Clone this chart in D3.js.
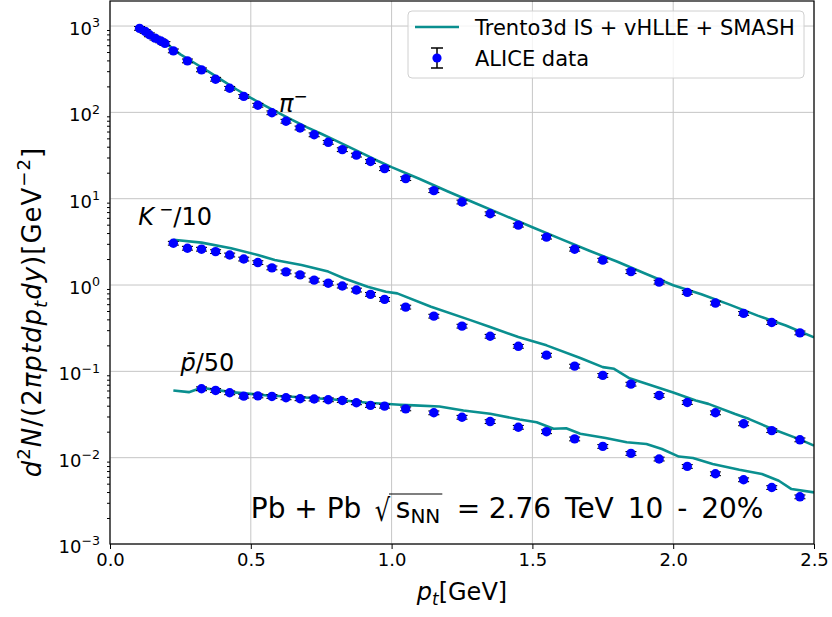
<!DOCTYPE html>
<html lang="en">
<head>
<meta charset="utf-8">
<title>Identified hadron spectra</title>
<script src="https://d3js.org/d3.v7.min.js"></script>
<style>
  html, body { margin: 0; padding: 0; background: #fff; }
  svg { display: block; font-family: "DejaVu Sans", sans-serif; }
  text { white-space: pre; }
</style>
</head>
<body>
<svg id="chart" width="832" height="617"></svg>
<script>
// ALICE data points (blue)
const piPt = [0.105, 0.125, 0.14, 0.16, 0.18, 0.195, 0.225, 0.275, 0.325, 0.375, 0.425, 0.475, 0.525, 0.575, 0.625, 0.675, 0.725, 0.775, 0.825, 0.875, 0.925, 0.975,
  1.05, 1.15, 1.25, 1.35, 1.45, 1.55, 1.65, 1.75, 1.85, 1.95, 2.05, 2.15, 2.25, 2.35, 2.45];
const piData = [940, 868, 792, 725, 674, 629, 516, 395, 311, 242, 190, 153, 121, 99, 79, 66, 55, 45, 37, 32, 27, 22.3,
  17.1, 12.4, 9.16, 6.70, 4.94, 3.59, 2.60, 1.94, 1.43, 1.08, 0.822, 0.618, 0.469, 0.368, 0.279];

const kPt = [0.225, 0.275, 0.325, 0.375, 0.425, 0.475, 0.525, 0.575, 0.625, 0.675, 0.725, 0.775, 0.825, 0.875, 0.925, 0.975,
  1.05, 1.15, 1.25, 1.35, 1.45, 1.55, 1.65, 1.75, 1.85, 1.95, 2.05, 2.15, 2.25, 2.35, 2.45];
const kData = [3.05, 2.67, 2.60, 2.44, 2.23, 2.00, 1.82, 1.58, 1.42, 1.31, 1.14, 1.05, 0.973, 0.875, 0.780, 0.682,
  0.555, 0.436, 0.334, 0.255, 0.195, 0.154, 0.115, 0.0898, 0.0711, 0.0526, 0.0436, 0.0331, 0.0247, 0.0206, 0.0161];

const pPt = [0.325, 0.375, 0.425, 0.475, 0.525, 0.575, 0.625, 0.675, 0.725, 0.775, 0.825, 0.875, 0.925, 0.975,
  1.05, 1.15, 1.25, 1.35, 1.45, 1.55, 1.65, 1.75, 1.85, 1.95, 2.05, 2.15, 2.25, 2.35, 2.45];
const pData = [0.0629, 0.0601, 0.0565, 0.0516, 0.0520, 0.0512, 0.0494, 0.0482, 0.0478, 0.0469, 0.0460, 0.0433, 0.0403, 0.0395,
  0.0368, 0.0331, 0.0294, 0.0262, 0.0225, 0.0200, 0.0165, 0.0135, 0.0112, 0.00965, 0.00792, 0.00652, 0.00555, 0.00451, 0.00352];

// relative uncertainty of the data points (bars are mostly hidden by the markers)
const relErr = 0.05;

// Trento3d IS + vHLLE + SMASH curves (teal)
const piModelPt = [0.1, 0.15, 0.2, 0.25, 0.3, 0.35, 0.4, 0.45, 0.5, 0.55, 0.6, 0.65, 0.7, 0.75, 0.8, 0.85, 0.9, 0.95, 1.0,
  1.1, 1.2, 1.3, 1.4, 1.5, 1.6, 1.7, 1.8, 1.9, 2.0, 2.1, 2.2, 2.3, 2.4, 2.5];
const piModel = [965, 790, 625, 470, 373, 296, 233, 184, 147, 120, 98, 80.7, 67.1, 56.5, 47.4, 39.5, 33.0, 27.5, 23.2,
  16.9, 12.1, 8.8, 6.41, 4.67, 3.42, 2.51, 1.87, 1.36, 0.995, 0.78, 0.593, 0.442, 0.34, 0.248];

const kModelPt = [0.225, 0.325, 0.43, 0.525, 0.585, 0.68, 0.775, 0.83, 0.915, 0.98, 1.02, 1.14, 1.28, 1.35, 1.45, 1.55,
  1.67, 1.75, 1.79, 1.845, 1.905, 2.0, 2.08, 2.125, 2.22, 2.27, 2.35, 2.445, 2.5];
const kModel = [3.34, 3.10, 2.67, 2.23, 1.95, 1.71, 1.43, 1.20, 0.955, 0.836, 0.80, 0.56, 0.392, 0.327, 0.25, 0.20,
  0.143, 0.112, 0.107, 0.083, 0.072, 0.057, 0.046, 0.042, 0.032, 0.028, 0.0216, 0.0165, 0.0138];

const pModelPt = [0.225, 0.28, 0.325, 0.43, 0.56, 0.68, 0.795, 0.915, 1.03, 1.08, 1.17, 1.255, 1.35, 1.455, 1.515, 1.575,
  1.62, 1.67, 1.76, 1.835, 1.905, 1.96, 2.02, 2.07, 2.14, 2.235, 2.315, 2.375, 2.42, 2.5];
const pModel = [0.0601, 0.0574, 0.0646, 0.0574, 0.0526, 0.0502, 0.0472, 0.0432, 0.041, 0.0403, 0.0392, 0.0352, 0.0322, 0.0277, 0.0257, 0.0216,
  0.0219, 0.0189, 0.0169, 0.0151, 0.0144, 0.0126, 0.0103, 0.0099, 0.00846, 0.00725, 0.00646, 0.0054, 0.00433, 0.00396];

const xTicks = [0, 0.5, 1.0, 1.5, 2.0, 2.5];
const yExponents = [-3, -2, -1, 0, 1, 2, 3];

const W = 832, H = 617;
const margin = {top: 1, right: 18, bottom: 73, left: 110};
const LINE_COLOR = '#0a8f8f';
const DOT_COLOR = '#0000ff';

const svg = d3.select('#chart');
const x = d3.scaleLinear().domain([0, 2.5]).range([margin.left, W - margin.right]);
const y = d3.scaleLog().domain([1e-3, 1950]).range([H - margin.bottom, margin.top]);

// text with italic / super / subscript pieces
function rich(t, parts, base) {
  let shift = 0;
  parts.forEach(p => {
    const s = p.sup ? -0.42 * base : p.sub ? 0.22 * base : 0;
    t.append('tspan')
      .attr('dy', s - shift)
      .attr('font-size', (p.sup || p.sub) ? base * 0.7 : base)
      .attr('font-style', p.it ? 'italic' : null)
      .text(p.t);
    shift = s;
  });
  return t;
}

svg.append('defs').append('clipPath').attr('id', 'plot')
  .append('rect')
  .attr('x', margin.left).attr('y', margin.top)
  .attr('width', W - margin.left - margin.right)
  .attr('height', H - margin.top - margin.bottom);

// grid
const grid = svg.append('g').attr('stroke', '#c6c6c6').attr('stroke-width', 1);
grid.selectAll('.gx').data(xTicks).enter().append('line')
  .attr('x1', d => x(d)).attr('x2', d => x(d))
  .attr('y1', margin.top).attr('y2', H - margin.bottom);
grid.selectAll('.gy').data(yExponents).enter().append('line')
  .attr('x1', margin.left).attr('x2', W - margin.right)
  .attr('y1', d => y(Math.pow(10, d))).attr('y2', d => y(Math.pow(10, d)));

// model curves
const line = d3.line().x(d => x(d[0])).y(d => y(d[1]));
const curves = [[piModelPt, piModel], [kModelPt, kModel], [pModelPt, pModel]];
svg.append('g').attr('clip-path', 'url(#plot)')
  .selectAll('path').data(curves).enter().append('path')
  .attr('d', c => line(c[0].map((v, i) => [v, c[1][i]])))
  .attr('fill', 'none')
  .attr('stroke', LINE_COLOR)
  .attr('stroke-width', 2.6)
  .attr('stroke-linejoin', 'round');

// data points with error bars
const points = [];
[[piPt, piData], [kPt, kData], [pPt, pData]].forEach(s => {
  s[0].forEach((v, i) => points.push([v, s[1][i]]));
});
const pts = svg.append('g').attr('clip-path', 'url(#plot)');
const eb = pts.selectAll('.eb').data(points).enter().append('g')
  .attr('stroke', '#000').attr('stroke-width', 1.1);
eb.append('line')
  .attr('x1', d => x(d[0])).attr('x2', d => x(d[0]))
  .attr('y1', d => y(d[1] * (1 + relErr))).attr('y2', d => y(d[1] * (1 - relErr)));
[1 + relErr, 1 - relErr].forEach(f => {
  eb.append('line')
    .attr('x1', d => x(d[0]) - 5.5).attr('x2', d => x(d[0]) + 5.5)
    .attr('y1', d => y(d[1] * f)).attr('y2', d => y(d[1] * f));
});
pts.selectAll('circle').data(points).enter().append('circle')
  .attr('cx', d => x(d[0])).attr('cy', d => y(d[1]))
  .attr('r', 4.7).attr('fill', DOT_COLOR);

// axes
const xAxis = svg.append('g')
  .attr('transform', 'translate(0,' + (H - margin.bottom) + ')')
  .call(d3.axisBottom(x).tickValues(xTicks).tickFormat(d3.format('.1f')).tickSize(5).tickPadding(4).tickSizeOuter(0));
xAxis.select('.domain').remove();
xAxis.selectAll('text').attr('font-size', 18).attr('font-family', '"DejaVu Sans", sans-serif').attr('fill', '#000');

const minor = [];
yExponents.forEach(e => {
  for (let k = 2; k <= 9; k++) {
    const v = k * Math.pow(10, e);
    if (v < y.domain()[1]) minor.push(v);
  }
});
const yAxis = svg.append('g').attr('transform', 'translate(' + margin.left + ',0)');
yAxis.call(d3.axisLeft(y).tickValues(yExponents.map(e => Math.pow(10, e))).tickFormat('').tickSize(5).tickSizeOuter(0));
yAxis.call(d3.axisLeft(y).tickValues(minor).tickFormat('').tickSize(3).tickSizeOuter(0));
yAxis.selectAll('.domain').remove();

yExponents.forEach(e => {
  const t = svg.append('text')
    .attr('x', margin.left - 10)
    .attr('y', y(Math.pow(10, e)) + 9)
    .attr('text-anchor', 'end')
    .attr('font-size', 18);
  rich(t, [{t: '10'}, {t: e < 0 ? '\u2212' + (-e) : String(e), sup: true}], 18);
});

// frame
svg.append('rect')
  .attr('x', margin.left).attr('y', margin.top)
  .attr('width', W - margin.left - margin.right)
  .attr('height', H - margin.top - margin.bottom)
  .attr('fill', 'none').attr('stroke', '#000').attr('stroke-width', 1.2);

// axis labels
rich(svg.append('text')
  .attr('x', (margin.left + W - margin.right) / 2)
  .attr('y', 600)
  .attr('text-anchor', 'middle')
  .attr('font-size', 24),
  [{t: 'p', it: true}, {t: 't', it: true, sub: true}, {t: '[GeV]'}], 24);

rich(svg.append('text')
  .attr('transform', 'translate(41,312) rotate(-90)')
  .attr('text-anchor', 'middle')
  .attr('letter-spacing', 1)
  .attr('font-size', 26),
  [{t: 'd', it: true}, {t: '2', sup: true}, {t: 'N', it: true}, {t: '/(2'}, {t: '\u03c0ptdp', it: true},
   {t: 't', it: true, sub: true}, {t: 'dy', it: true}, {t: ')[GeV'}, {t: '\u22122', sup: true}, {t: ']'}], 26);

// species labels
rich(svg.append('text').attr('x', x(0.6)).attr('y', y(100)).attr('font-size', 24),
  [{t: '\u03c0', it: true}, {t: '\u2212', sup: true}], 24);
rich(svg.append('text').attr('x', x(0.1)).attr('y', y(5)).attr('font-size', 24),
  [{t: 'K', it: true}, {t: ' \u2212', sup: true}, {t: '/10'}], 24);
rich(svg.append('text').attr('x', x(0.25)).attr('y', y(0.1)).attr('font-size', 24),
  [{t: 'p\u0304', it: true}, {t: '/50'}], 24);

// collision system annotation
const ax = x(0.5), ay = y(0.002);
const ann = svg.append('g').attr('font-size', 28);
ann.append('text').attr('x', ax).attr('y', ay).text('Pb + Pb');
const sq = ann.append('text')
  .attr('transform', 'translate(' + (ax + 124) + ',' + (ay + 3) + ') scale(1.1,1.4)')
  .attr('font-size', 22).text('\u221a');
const sb = sq.node().getBBox();
const snn = ann.append('text').attr('x', ax + 145).attr('y', ay);
snn.append('tspan').text('s');
snn.append('tspan').attr('font-size', 20).attr('dy', 5).text('NN');
const snnEnd = ax + 145 + snn.node().getComputedTextLength();
ann.append('line')
  .attr('x1', ax + 124 + 1.1 * (sb.x + sb.width) - 1.5).attr('x2', snnEnd + 2)
  .attr('y1', ay - 24).attr('y2', ay - 24)
  .attr('stroke', '#000').attr('stroke-width', 1.2);
ann.append('text').attr('x', ax + 206).attr('y', ay).text('=');
ann.append('text').attr('x', ax + 238).attr('y', ay).attr('word-spacing', 5).text('2.76 TeV 10 - 20%');

// legend
const lg = svg.append('g').attr('transform', 'translate(408,11)');
lg.append('rect')
  .attr('width', 396).attr('height', 67).attr('rx', 4)
  .attr('fill', '#fff').attr('fill-opacity', 0.8)
  .attr('stroke', '#d0d0d0').attr('stroke-width', 1);
lg.append('line')
  .attr('x1', 7).attr('x2', 51).attr('y1', 16).attr('y2', 16)
  .attr('stroke', LINE_COLOR).attr('stroke-width', 2.6);
lg.append('text').attr('x', 67).attr('y', 23.5).attr('font-size', 21).text('Trento3d IS + vHLLE + SMASH');
const lm = lg.append('g').attr('stroke', '#000').attr('stroke-width', 1.5);
lm.append('line').attr('x1', 29).attr('x2', 29).attr('y1', 37).attr('y2', 57);
lm.append('line').attr('x1', 23).attr('x2', 35).attr('y1', 37).attr('y2', 37);
lm.append('line').attr('x1', 23).attr('x2', 35).attr('y1', 57).attr('y2', 57);
lg.append('circle').attr('cx', 29).attr('cy', 47).attr('r', 4.6).attr('fill', DOT_COLOR);
lg.append('text').attr('x', 67).attr('y', 54.5).attr('font-size', 21).text('ALICE data');
</script>
</body>
</html>
